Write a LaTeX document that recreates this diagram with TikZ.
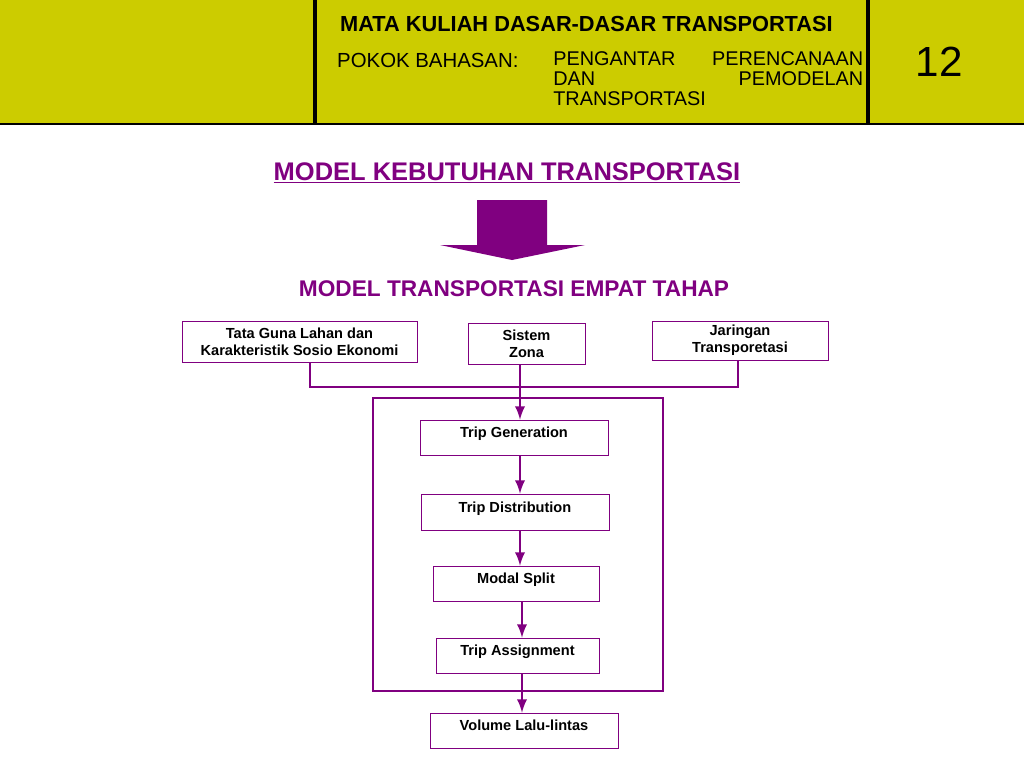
\documentclass[tikz,border=0pt]{standalone}
\usepackage{fontspec}
\setmainfont{Liberation Sans}
\usetikzlibrary{positioning}
\definecolor{olive}{RGB}{204,204,0}
\definecolor{ungu}{RGB}{128,0,128}
\tikzset{
  box/.style={draw=ungu,fill=white,font=\bfseries\fontsize{8.3}{9.5}\selectfont,align=center,inner sep=0pt},
  pipe/.style={draw=ungu,line width=1.6pt},
  arr/.style={pipe,->,>=latex}
}
\begin{document}
\begin{tikzpicture}[x=0.02cm,y=-0.02cm]
      \useasboundingbox (0,0) rectangle (1024,768);
      % header band
      \fill[olive] (0,0) rectangle (1024,124);
      \draw[line width=1pt] (0,124) -- (1024,124);
      \draw[line width=2pt] (315,0) -- (315,124);
      \draw[line width=2pt] (868,0) -- (868,124);
      \node[anchor=west,font=\bfseries\fontsize{12.4}{15}\selectfont] (course) at (334,24) {MATA KULIAH DASAR-DASAR TRANSPORTASI};
      \node[anchor=west,font=\fontsize{11.6}{13}\selectfont] (pokok) at (331,60) {POKOK BAHASAN:};
      \node[anchor=north west,font=\fontsize{11.3}{11.4}\selectfont,text width=6.2cm,align=left,inner xsep=0pt,inner ysep=0pt] (topic) at (553,51)
        {PENGANTAR\hfill PERENCANAAN\\DAN\hfill PEMODELAN\\TRANSPORTASI};
      \node[font=\fontsize{24}{26}\selectfont] (num) at (939,62) {12};

      % titles
      \node[font=\bfseries\fontsize{14.5}{16}\selectfont,text=ungu] (judul) at (507,173) {\underline{MODEL KEBUTUHAN TRANSPORTASI}};
      \fill[ungu] (477,200) -- (547,200) -- (547,245) -- (585,245) -- (512,260) -- (440,245) -- (477,245) -- cycle;
      \node[font=\bfseries\fontsize{12.9}{14}\selectfont,text=ungu] (sub) at (514,289) {MODEL TRANSPORTASI EMPAT TAHAP};

      % input boxes
      \node[box,minimum width=4.7cm,minimum height=0.82cm] (tata) at (299.5,341.5) {Tata Guna Lahan dan\\Karakteristik Sosio Ekonomi};
      \node[box,minimum width=2.34cm,minimum height=0.82cm] (zona) at (526.5,343.5) {Sistem\\Zona};
      \node[box,minimum width=3.52cm,minimum height=0.78cm] (jar) at (740,340.5) {Jaringan\\Transporetasi};
      \coordinate (jl) at (310,387);
      \coordinate (jm) at (520,387);
      \coordinate (jr) at (738,387);
      \draw[pipe] (tata.south -| jl) -- (jl) -- (jr) -- (jr |- jar.south);
      \draw[pipe] (zona.south -| jm) -- (jm);

      % four stage frame
      \draw[ungu,line width=1.6pt] (373,398) rectangle (663,691);
      \node[box,minimum width=3.76cm,minimum height=0.7cm,text depth=0.2cm] (gen) at (514,437.5) {Trip Generation};
      \node[box,minimum width=3.76cm,minimum height=0.72cm,text depth=0.2cm] (dist) at (515,512) {Trip Distribution};
      \node[box,minimum width=3.32cm,minimum height=0.7cm,text depth=0.2cm] (modal) at (516,583.5) {Modal Split};
      \node[box,minimum width=3.26cm,minimum height=0.7cm,text depth=0.2cm] (assign) at (517.5,655.5) {Trip Assignment};
      \node[box,minimum width=3.76cm,minimum height=0.7cm,text depth=0.2cm] (vol) at (524,730.5) {Volume Lalu-lintas};

      \draw[arr] (jm) -- (jm |- gen.north);
      \draw[arr] (gen.south -| 520,0) -- (dist.north -| 520,0);
      \draw[arr] (dist.south -| 520,0) -- (modal.north -| 520,0);
      \draw[arr] (modal.south -| 522,0) -- (assign.north -| 522,0);
      \draw[arr] (assign.south -| 522,0) -- (vol.north -| 522,0);
\end{tikzpicture}
\end{document}
